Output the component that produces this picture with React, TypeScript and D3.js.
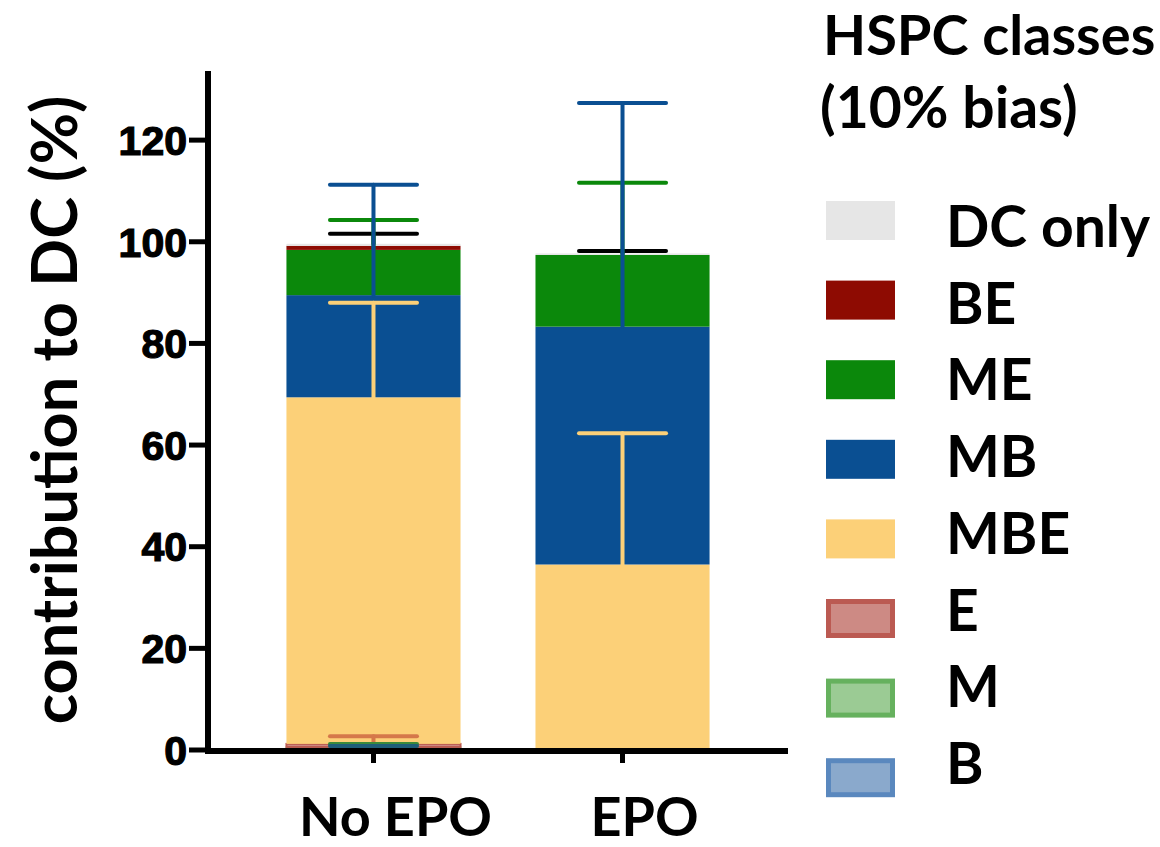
import React from "react";
import * as d3 from "d3";

// Treatment groups on the x axis
const groups = ["No EPO", "EPO"];
// HSPC classes, stacked from the bottom of each bar upward
const classes = ["B", "M", "E", "MBE", "MB", "ME", "BE", "DC only"];
// Mean contribution to DC (%) for each class
const noEpoMean = [0.3, 0.3, 0.6, 68.2, 20.1, 8.9, 0.8, 0.4];
const epoMean = [0, 0, 0.1, 36.4, 46.8, 14.1, 0, 0.3];
// Upper error (SD) for each class
const noEpoSd = [0.5, 0.6, 1.5, 18.6, 21.7, 5.9, 0, 2.0];
const epoSd = [0, 0, 0, 25.8, 44.0, 14.2, 0, 0.5];
// Y axis tick labels
const yTicks = [0, 20, 40, 60, 80, 100, 120];
// Legend order (top to bottom)
const legendOrder = ["DC only", "BE", "ME", "MB", "MBE", "E", "M", "B"];

const fills: Record<string, string> = {
  B: "#8aa9cc",
  M: "#9bcb94",
  E: "#cd8a84",
  MBE: "#fcd078",
  MB: "#0a4f92",
  ME: "#0b880b",
  BE: "#8e0b02",
  "DC only": "#e6e6e6",
};
const strokes: Record<string, string | null> = {
  B: "#5a88be",
  M: "#66b15e",
  E: "#bb5a52",
  MBE: null,
  MB: null,
  ME: null,
  BE: null,
  "DC only": null,
};
const errColors: Record<string, string> = {
  B: "#1e5e78",
  M: "#3a8a3a",
  E: "#d5784a",
  MBE: "#fcd078",
  MB: "#0a4f92",
  ME: "#0b880b",
  BE: "#8e0b02",
  "DC only": "#000000",
};

const means = [noEpoMean, epoMean];
const sds = [noEpoSd, epoSd];

const LABEL_FONT = "Lato, 'Open Sans', sans-serif";
const TICK_FONT = "'Liberation Sans', Arial, sans-serif";

export default function App() {
  const width = 1160;
  const height = 847;
  const axisX = 208;
  const axisRight = 788;

  const x = d3
    .scaleBand<string>()
    .domain(groups)
    .range([axisX, axisRight])
    .paddingInner(0.301)
    .paddingOuter(0.315);
  const y = d3.scaleLinear().domain([0, 133.6]).range([750, 71]);

  const bw = x.bandwidth();
  const capHalf = bw * 0.25;

  // Stack segments per group
  const segs = groups.map((g, gi) => {
    let acc = 0;
    return classes.map((c, ci) => {
      const v0 = acc;
      acc += means[gi][ci];
      return { g, c, v0, v1: acc, sd: sds[gi][ci] };
    });
  });

  return (
    <svg
      width={width}
      height={height}
      style={{ position: "absolute", left: 0, top: 0, background: "#fff" }}
    >
      {/* stacked bars */}
      {segs.map((list, gi) => (
        <g key={"bars" + gi}>
          {list
            .filter((s) => s.v1 > s.v0)
            .map((s) => {
              const st = strokes[s.c];
              const h = y(s.v0) - y(s.v1);
              return (
                <rect
                  key={s.c}
                  x={x(s.g)!}
                  y={y(s.v1)}
                  width={bw}
                  height={h}
                  fill={fills[s.c]}
                  stroke={st ?? "none"}
                  strokeWidth={st ? Math.min(2, h) : 0}
                />
              );
            })}
        </g>
      ))}

      {/* error bars, drawn top class first */}
      {segs.map((list, gi) => {
        const cx = x(groups[gi])! + bw / 2;
        return (
          <g key={"err" + gi} strokeLinecap="round" fill="none">
            {[...list]
              .reverse()
              .filter((s) => s.sd > 0)
              .map((s) => (
                <g key={s.c} stroke={errColors[s.c]} strokeWidth={4}>
                  <line x1={cx} x2={cx} y1={y(s.v1)} y2={y(s.v1 + s.sd)} />
                  <line
                    x1={cx - capHalf}
                    x2={cx + capHalf}
                    y1={y(s.v1 + s.sd)}
                    y2={y(s.v1 + s.sd)}
                  />
                </g>
              ))}
          </g>
        );
      })}

      {/* y axis */}
      <line x1={axisX} x2={axisX} y1={71} y2={754} stroke="#000" strokeWidth={6} />
      {yTicks.map((t) => (
        <g key={t}>
          <line x1={189} x2={axisX} y1={y(t)} y2={y(t)} stroke="#000" strokeWidth={5} />
          <text
            x={187}
            y={y(t)}
            dy="0.36em"
            textAnchor="end"
            fontFamily={TICK_FONT}
            fontWeight={700}
            fontSize={41}
            fill="#000"
            stroke="#000"
            strokeWidth={1.2}
          >
            {t}
          </text>
        </g>
      ))}

      {/* x axis */}
      <line x1={axisX - 3} x2={axisRight} y1={751} y2={751} stroke="#000" strokeWidth={6} />
      {groups.map((g) => {
        const cx = x(g)! + bw / 2;
        return (
          <g key={g}>
            <line x1={cx} x2={cx} y1={751} y2={763} stroke="#000" strokeWidth={5} />
            <text
              x={cx + 22}
              y={836}
              textAnchor="middle"
              fontFamily={LABEL_FONT}
              fontWeight={700}
              fontSize={54}
              fill="#000"
            >
              {g}
            </text>
          </g>
        );
      })}

      {/* y axis title */}
      <text
        transform={`translate(77, 410) rotate(-90)`}
        textAnchor="middle"
        fontFamily={LABEL_FONT}
        fontWeight={700}
        fontSize={63}
        fill="#000"
      >
        contribution to DC (%)
      </text>

      {/* legend */}
      <text x={823} y={55} fontFamily={LABEL_FONT} fontWeight={700} fontSize={56} fill="#000">
        HSPC classes
      </text>
      <text x={820} y={128} fontFamily={LABEL_FONT} fontWeight={700} fontSize={57} fill="#000">
        (10% bias)
      </text>
      {legendOrder.map((c, i) => {
        const sy = 201 + i * 79.6;
        const st = strokes[c];
        return (
          <g key={c}>
            {st ? (
              <rect
                x={826 + 2.5}
                y={sy + 2.5}
                width={69 - 5}
                height={39 - 5}
                fill={fills[c]}
                stroke={st}
                strokeWidth={5}
              />
            ) : (
              <rect x={826} y={sy} width={69} height={39} fill={fills[c]} />
            )}
            <text
              x={946}
              y={247 + i * 76.7}
              fontFamily={LABEL_FONT}
              fontWeight={700}
              fontSize={57}
              fill="#000"
            >
              {c}
            </text>
          </g>
        );
      })}
    </svg>
  );
}
